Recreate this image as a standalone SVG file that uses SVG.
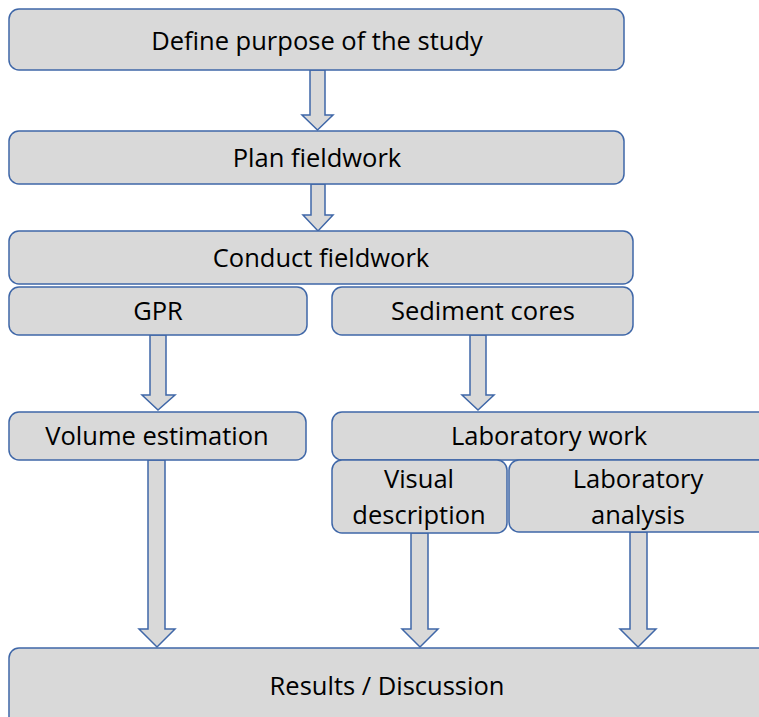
<svg xmlns="http://www.w3.org/2000/svg" width="759" height="717" viewBox="0 0 759 717">
<style>
.box{fill:#d9d9d9;stroke:#3f67a8;stroke-width:1.5}
.arr{fill:#d9d9d9;stroke:#3f67a8;stroke-width:1.5;stroke-linejoin:miter}
text{font-family:"Open Sans","Liberation Sans",sans-serif;font-size:25.5px;fill:#000;text-anchor:middle}
</style>
<rect width="759" height="717" fill="#ffffff"/>
<g id="connectors">
<polygon class="arr" points="310,70 325,70 325,115 333,115 317.5,130 302,115 310,115"/>
<polygon class="arr" points="311,184 325,184 325,215 333,215 318,231 303,215 311,215"/>
<polygon class="arr" points="150,335 166,335 166,395 175,395 158,410 142,395 150,395"/>
<polygon class="arr" points="470,335 486,335 486,395 494,395 478,410 462,395 470,395"/>
<polygon class="arr" points="148,460 165,460 165,629 175,629 157,647 139,629 148,629"/>
<polygon class="arr" points="411,533 428,533 428,629 438,629 420,647 402,629 411,629"/>
<polygon class="arr" points="630,532 647,532 647,629 656,629 638,647 620,629 630,629"/>
</g>
<g id="n-define"><rect class="box" x="9" y="9" width="615" height="61" rx="10"/><text x="317" y="50">Define purpose of the study</text></g>
<g id="n-plan"><rect class="box" x="9" y="131" width="615" height="53" rx="10"/><text x="317" y="167">Plan fieldwork</text></g>
<g id="n-conduct"><rect class="box" x="9" y="231" width="624" height="53" rx="10"/><text x="321" y="267">Conduct fieldwork</text></g>
<g id="n-gpr"><rect class="box" x="9" y="287" width="298" height="48" rx="10"/><text x="158" y="320">GPR</text></g>
<g id="n-sediment"><rect class="box" x="332" y="287" width="301" height="48" rx="10"/><text x="483" y="320">Sediment cores</text></g>
<g id="n-volume"><rect class="box" x="9" y="412" width="297" height="48" rx="10"/><text x="157" y="445">Volume estimation</text></g>
<g id="n-labwork"><rect class="box" x="332" y="412" width="440" height="48" rx="10"/><text x="549" y="445">Laboratory work</text></g>
<g id="n-visual"><rect class="box" x="332" y="460" width="175" height="73" rx="10"/><text x="419" y="488">Visual</text><text x="419" y="524">description</text></g>
<g id="n-labanalysis"><rect class="box" x="509" y="460" width="263" height="72" rx="10"/><text x="638" y="488">Laboratory</text><text x="638" y="524">analysis</text></g>
<g id="n-results"><rect class="box" x="9" y="648" width="763" height="80" rx="10"/><text x="387" y="695">Results / Discussion</text></g>
</svg>
